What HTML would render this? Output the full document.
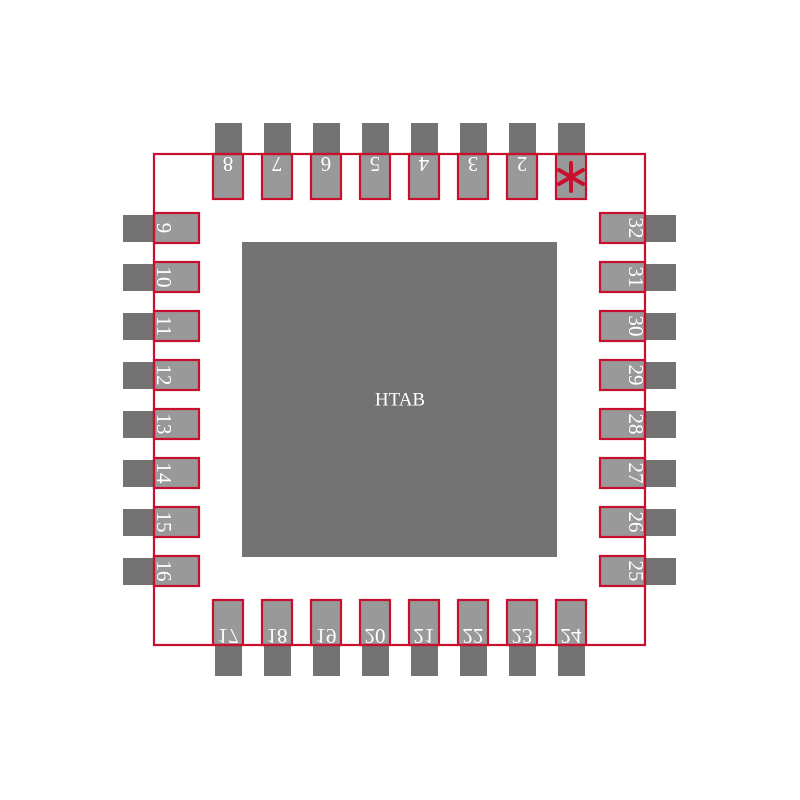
<!DOCTYPE html>
<html><head><meta charset="utf-8"><style>html,body{margin:0;padding:0;background:#fff}svg{display:block}</style></head>
<body>
<svg width="800" height="800" viewBox="0 0 800 800" xmlns="http://www.w3.org/2000/svg" font-family="Liberation Serif, serif" font-size="21">
<defs>
<g id="tp"><rect x="-13" y="123" width="27" height="31" fill="#737373"/><rect x="-15" y="154" width="30" height="45" fill="#999" stroke="#c8102e" stroke-width="2.2"/></g>
<g id="bp"><rect x="-13" y="645" width="27" height="31" fill="#737373"/><rect x="-15" y="600" width="30" height="45" fill="#999" stroke="#c8102e" stroke-width="2.2"/></g>
<g id="lp"><rect x="123" y="-13" width="31" height="27" fill="#737373"/><rect x="154" y="-15" width="45" height="30" fill="#999" stroke="#c8102e" stroke-width="2.2"/></g>
<g id="rp"><rect x="645" y="-13" width="31" height="27" fill="#737373"/><rect x="600" y="-15" width="45" height="30" fill="#999" stroke="#c8102e" stroke-width="2.2"/></g>
</defs>
<rect x="242" y="242" width="315" height="315" fill="#737373"/>
<text x="400" y="400" fill="#fff" font-size="19" text-anchor="middle" dominant-baseline="central">HTAB</text>

<use href="#tp" x="228"/><use href="#tp" x="277"/><use href="#tp" x="326"/><use href="#tp" x="375"/><use href="#tp" x="424"/><use href="#tp" x="473"/><use href="#tp" x="522"/><use href="#tp" x="571"/>
<use href="#bp" x="228"/><use href="#bp" x="277"/><use href="#bp" x="326"/><use href="#bp" x="375"/><use href="#bp" x="424"/><use href="#bp" x="473"/><use href="#bp" x="522"/><use href="#bp" x="571"/>
<use href="#lp" y="228"/><use href="#lp" y="277"/><use href="#lp" y="326"/><use href="#lp" y="375"/><use href="#lp" y="424"/><use href="#lp" y="473"/><use href="#lp" y="522"/><use href="#lp" y="571"/>
<use href="#rp" y="228"/><use href="#rp" y="277"/><use href="#rp" y="326"/><use href="#rp" y="375"/><use href="#rp" y="424"/><use href="#rp" y="473"/><use href="#rp" y="522"/><use href="#rp" y="571"/>

<rect x="154" y="154" width="491" height="491" fill="none" stroke="#c8102e" stroke-width="2.2"/>

<g fill="#fff" text-anchor="middle" dominant-baseline="central">
<text transform="translate(228,164) rotate(180)">8</text>
<text transform="translate(277,164) rotate(180)">7</text>
<text transform="translate(326,164) rotate(180)">6</text>
<text transform="translate(375,164) rotate(180)">5</text>
<text transform="translate(424,164) rotate(180)">4</text>
<text transform="translate(473,164) rotate(180)">3</text>
<text transform="translate(522,164) rotate(180)">2</text>

<text transform="translate(228,636) scale(1,-1)">17</text>
<text transform="translate(277,636) scale(1,-1)">18</text>
<text transform="translate(326,636) scale(1,-1)">19</text>
<text transform="translate(375,636) scale(1,-1)">20</text>
<text transform="translate(424,636) scale(1,-1)">21</text>
<text transform="translate(473,636) scale(1,-1)">22</text>
<text transform="translate(522,636) scale(1,-1)">23</text>
<text transform="translate(571,636) scale(1,-1)">24</text>

<text transform="translate(164,228) rotate(90)">9</text>
<text transform="translate(164,277) rotate(90)">10</text>
<text transform="translate(164,326) rotate(90)">11</text>
<text transform="translate(164,375) rotate(90)">12</text>
<text transform="translate(164,424) rotate(90)">13</text>
<text transform="translate(164,473) rotate(90)">14</text>
<text transform="translate(164,522) rotate(90)">15</text>
<text transform="translate(164,571) rotate(90)">16</text>

<text transform="translate(636,228) rotate(90)">32</text>
<text transform="translate(636,277) rotate(90)">31</text>
<text transform="translate(636,326) rotate(90)">30</text>
<text transform="translate(636,375) rotate(90)">29</text>
<text transform="translate(636,424) rotate(90)">28</text>
<text transform="translate(636,473) rotate(90)">27</text>
<text transform="translate(636,522) rotate(90)">26</text>
<text transform="translate(636,571) rotate(90)">25</text>
</g>
<g stroke="#c8102e" stroke-width="4" stroke-linecap="round">
<line x1="571" y1="163" x2="571" y2="191"/>
<line x1="559" y1="170" x2="583" y2="184"/>
<line x1="559" y1="184" x2="583" y2="170"/>
</g>
</svg>
</body></html>
